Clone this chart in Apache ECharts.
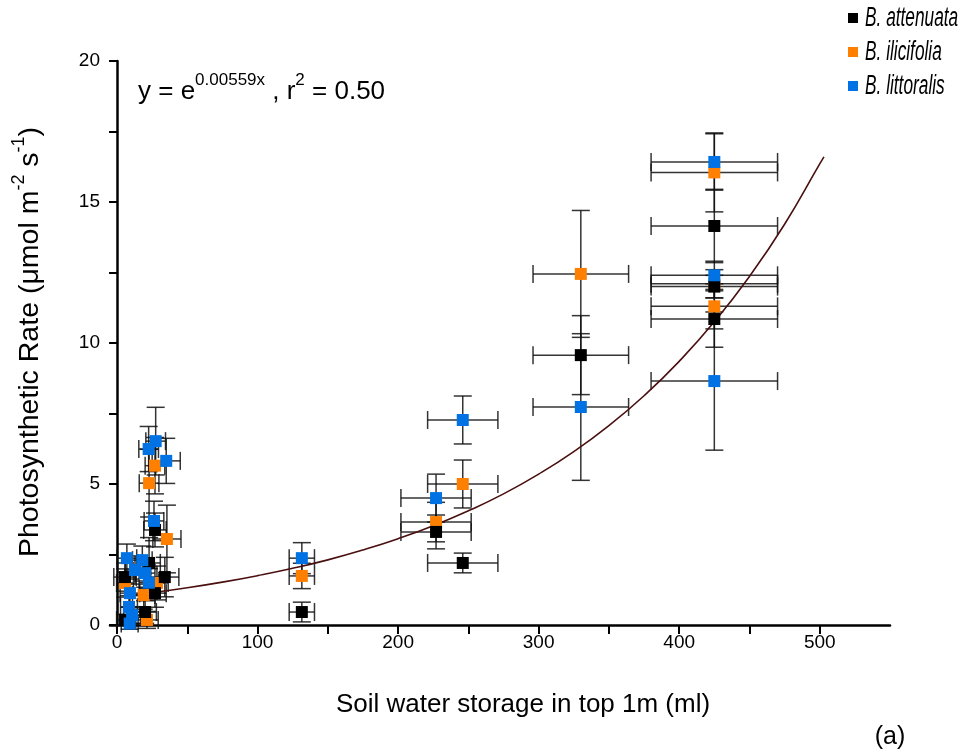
<!DOCTYPE html>
<html>
<head>
<meta charset="utf-8">
<script src="https://cdn.jsdelivr.net/npm/echarts@6/dist/echarts.min.js"></script>
<style>
  html, body { margin: 0; padding: 0; background: #fff; }
  #chart { width: 964px; height: 755px; }
</style>
</head>
<body>
<div id="chart"></div>
<script>
// each row: [soil water (ml), photosynthetic rate, x error, y error]
const attenuata = [
  [425, 14.15, 45, 1.3], [425, 12.0, 45, 0.4], [425, 10.85, 45, 1.0],
  [330, 9.57, 34, 1.4], [227, 3.3, 25, 0.6], [246, 2.2, 25, 0.35],
  [131.5, 0.46, 9, 0.35], [27, 3.37, 8, 0.6], [22.8, 2.2, 8, 0.9],
  [34, 1.7, 10, 0.7], [5.7, 1.7, 8, 0.5], [27, 1.13, 8, 0.5],
  [20, 0.46, 8, 0.4], [5.7, 0.18, 6, 0.2]
]
const ilicifolia = [
  [425, 16.05, 45, 1.4], [425, 12.1, 45, 0.5], [425, 11.3, 45, 0.8],
  [330, 12.45, 34, 2.25], [246, 5.0, 25, 0.85], [227, 3.65, 25, 0.7],
  [131.5, 1.74, 9, 0.45], [27, 5.65, 7, 1.0], [22.8, 5.03, 7, 1.2],
  [35.5, 3.05, 10, 1.2], [28.4, 1.49, 8, 0.6], [5.7, 1.49, 6, 0.5],
  [19, 1.06, 8, 0.5], [21.3, 0.18, 8, 0.3]
]
const littoralis = [
  [425, 16.42, 45, 1.0], [425, 12.4, 45, 0.5], [425, 8.65, 45, 2.45],
  [330, 7.73, 34, 2.6], [246, 7.27, 25, 0.85], [227, 4.5, 25, 0.85],
  [131.5, 2.37, 9, 0.55], [27.5, 6.52, 7, 1.2], [22.5, 6.24, 7, 0.8],
  [35, 5.82, 10, 0.8], [26.3, 3.69, 7, 0.7], [7, 2.37, 7, 0.5],
  [18, 2.3, 7, 0.5], [12.8, 1.95, 7, 0.5], [20, 1.84, 7, 0.5],
  [22.7, 1.5, 7, 0.5], [9.2, 1.13, 7, 0.5], [8.5, 0.64, 6, 0.4],
  [10.7, 0.35, 6, 0.3], [9, 0.05, 6, 0.2]
]
// fitted curve
const fitCurve = [
  [5, 1.03], [25, 1.15], [50, 1.32], [75, 1.52], [100, 1.75], [125, 2.01],
  [150, 2.31], [175, 2.66], [200, 3.06], [225, 3.52], [250, 4.05],
  [275, 4.65], [300, 5.35], [325, 6.15], [350, 7.07], [375, 8.13],
  [400, 9.35], [425, 10.75], [450, 12.36], [475, 14.21], [500, 16.35], [503, 16.6]
]
const xTicks = [0, 50, 100, 150, 200, 250, 300, 350, 400, 450, 500]
const xLabels = [0, 100, 200, 300, 400, 500]
const yTicks = [0, 2.5, 5, 7.5, 10, 12.5, 15, 17.5, 20]
const yLabels = [0, 5, 10, 15, 20]
const species = ['B. attenuata', 'B. ilicifolia', 'B. littoralis']
const colors = ['#000000', '#ff8000', '#0072e3']

const font = 'Liberation Sans, Arial, sans-serif'
const chart = echarts.init(document.getElementById('chart'))

function errorBars(name, rows, z) {
  return {
    name: name + ' err',
    type: 'custom',
    z: z,
    silent: true,
    data: rows,
    renderItem: function(params, api) {
      const x = api.value(0)
      const y = api.value(1)
      const xe = api.value(2)
      const ye = api.value(3)
      const l = api.coord([x - xe, y])
      const r = api.coord([x + xe, y])
      const t = api.coord([x, y + ye])
      const b = api.coord([x, y - ye])
      const cap = 9
      const st = { stroke: '#111', lineWidth: 1.5, opacity: 0.85 }
      const line = (x1, y1, x2, y2) => ({ type: 'line', shape: { x1, y1, x2, y2 }, style: st })
      return {
        type: 'group',
        children: [
          line(l[0], l[1], r[0], r[1]),
          line(t[0], t[1], b[0], b[1]),
          line(l[0], l[1] - cap, l[0], l[1] + cap),
          line(r[0], r[1] - cap, r[0], r[1] + cap),
          line(t[0] - cap, t[1], t[0] + cap, t[1]),
          line(b[0] - cap, b[1], b[0] + cap, b[1])
        ]
      }
    }
  }
}

function points(name, rows, color, z) {
  return {
    name: name,
    type: 'scatter',
    symbol: 'rect',
    symbolSize: 12,
    z: z,
    itemStyle: { color: color, opacity: 1 },
    data: rows.map(r => [r[0], r[1]])
  }
}

// legend drawn by hand so the narrow italic text fits like the original
const legendItems = []
species.forEach((name, i) => {
  const cy = 18 + i * 34
  legendItems.push({ type: 'rect', shape: { x: 848, y: cy - 5, width: 10, height: 10 }, style: { fill: colors[i] } })
  legendItems.push({
    type: 'text', x: 865, y: cy, scaleX: 0.64,
    style: { text: name, fontSize: 27, fontStyle: 'italic', fontFamily: font, fill: '#000', verticalAlign: 'middle' }
  })
})

chart.setOption({
  animation: false,
  grid: { left: 110, right: 74, top: 61, bottom: 130 },
  xAxis: {
    type: 'value',
    min: -5,
    max: 550,
    splitLine: { show: false },
    axisLine: { lineStyle: { color: '#000', width: 2.5 } },
    axisTick: { length: 9, customValues: xTicks, lineStyle: { color: '#000', width: 2 } },
    axisLabel: { customValues: xLabels, fontSize: 19, fontFamily: font, color: '#000', margin: 8 }
  },
  yAxis: {
    type: 'value',
    min: 0,
    max: 20,
    splitLine: { show: false },
    axisLine: { show: true, lineStyle: { color: '#000', width: 2.5 } },
    axisTick: { show: true, length: 8, customValues: yTicks, lineStyle: { color: '#000', width: 2 } },
    axisLabel: { customValues: yLabels, fontSize: 19, fontFamily: font, color: '#000', margin: 10 }
  },
  graphic: legendItems.concat([
    {
      type: 'text', left: 138, top: 72,
      style: {
        text: '{n|y = e}{s|0.00559x}{n| , r}{s|2}{n| = 0.50}',
        fontFamily: font,
        rich: {
          n: { fontSize: 26, fontFamily: font, fill: '#000', lineHeight: 36 },
          s: { fontSize: 17, fontFamily: font, fill: '#000', padding: [0, 0, 22, 0] }
        }
      }
    },
    {
      type: 'text', x: 523, y: 705,
      style: { text: 'Soil water storage in top 1m (ml)', fontSize: 26, fontFamily: font, fill: '#000', align: 'center', verticalAlign: 'middle' }
    },
    {
      type: 'text', x: 890, y: 737,
      style: { text: '(a)', fontSize: 25, fontFamily: font, fill: '#000', align: 'center', verticalAlign: 'middle' }
    },
    {
      type: 'text', x: 30, y: 342, rotation: Math.PI / 2,
      style: {
        text: '{n|Photosynthetic Rate (μmol m}{s|-2}{n| s}{s|-1}{n|)}',
        align: 'center', verticalAlign: 'middle',
        rich: {
          n: { fontSize: 28.5, fontFamily: font, fill: '#000', lineHeight: 36 },
          s: { fontSize: 18, fontFamily: font, fill: '#000', padding: [0, 0, 21, 0] }
        }
      }
    }
  ]),
  series: [
    errorBars(species[1], ilicifolia, 1),
    errorBars(species[0], attenuata, 1),
    errorBars(species[2], littoralis, 1),
    {
      name: 'fit',
      type: 'line',
      smooth: true,
      showSymbol: false,
      z: 2,
      lineStyle: { color: '#4a0f0f', width: 1.6 },
      data: fitCurve
    },
    points(species[1], ilicifolia, colors[1], 3),
    points(species[0], attenuata, colors[0], 4),
    points(species[2], littoralis, colors[2], 5)
  ]
})
</script>
</body>
</html>
